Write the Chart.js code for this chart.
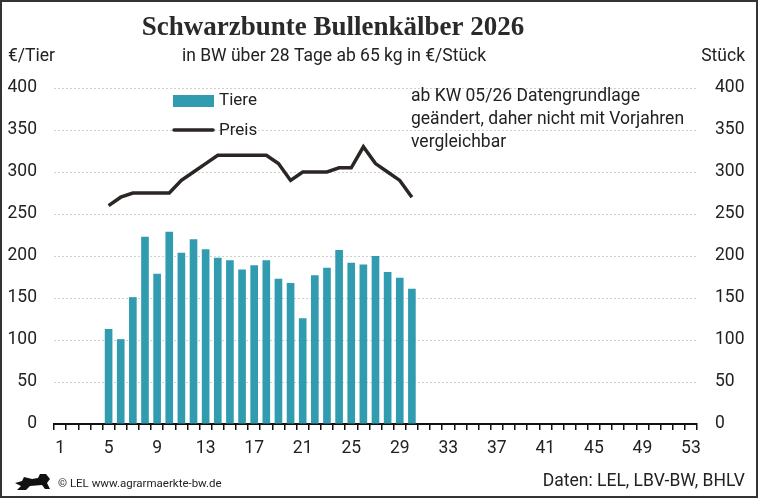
<!DOCTYPE html>
<html>
<head>
<meta charset="utf-8">
<script src="https://cdn.jsdelivr.net/npm/chart.js@4/dist/chart.umd.min.js"></script>
<style>
  html, body { margin: 0; padding: 0; background: #fff; }
  #wrap { width: 758px; height: 498px; }
</style>
</head>
<body>
<div id="wrap"><canvas id="c" width="758" height="498"></canvas></div>
<script>
// Kalenderwochen 1..53
const weeks = ['1','2','3','4','5','6','7','8','9','10','11','12','13','14','15','16','17','18','19','20',
  '21','22','23','24','25','26','27','28','29','30','31','32','33','34','35','36','37','38','39','40',
  '41','42','43','44','45','46','47','48','49','50','51','52','53'];

// Tiere (Stück), KW 5-30
const tiere = [null, null, null, null,
  113, 101, 151, 223, 179, 229, 204, 220, 208, 198, 195, 184, 189, 195, 173, 168,
  126, 177, 186, 207, 192, 190, 200, 181, 174, 161,
  null, null, null, null, null, null, null, null, null, null, null, null,
  null, null, null, null, null, null, null, null, null, null, null];

// Preis (€/Tier), KW 5-30
const preis = [null, null, null, null,
  260, 270, 275, 275, 275, 275, 290, 300, 310, 320, 320, 320, 320, 320, 310, 290,
  300, 300, 300, 305, 305, 330, 310, 300, 290, 270,
  null, null, null, null, null, null, null, null, null, null, null, null,
  null, null, null, null, null, null, null, null, null, null, null];

const yTicks = [0, 50, 100, 150, 200, 250, 300, 350, 400];

const BAR_COLOR = '#319bb0';
const LINE_COLOR = '#2b2624';
const TEXT = '#222';
const SANS = 'Roboto, "Noto Sans", sans-serif';
const FS = 17.5;

// texts, legend, frame drawn on top of the chart
const decor = {
  id: 'decor',
  afterDraw(chart) {
    const ctx = chart.ctx;
    ctx.save();

    // title
    ctx.fillStyle = '#2a2a2a';
    ctx.textAlign = 'center';
    ctx.textBaseline = 'middle';
    ctx.font = 'bold 27px "Liberation Serif", serif';
    ctx.fillText('Schwarzbunte Bullenkälber 2026', 333, 28);
    ctx.font = FS + 'px ' + SANS;
    ctx.fillStyle = TEXT;
    ctx.fillText('in BW über 28 Tage ab 65 kg in €/Stück', 334, 57);

    // axis titles
    ctx.textAlign = 'left';
    ctx.fillText('€/Tier', 8, 57);
    ctx.textAlign = 'right';
    ctx.fillText('Stück', 745, 57);

    // legend
    ctx.textAlign = 'left';
    ctx.fillStyle = BAR_COLOR;
    ctx.fillRect(173, 95, 41, 12);
    ctx.strokeStyle = LINE_COLOR;
    ctx.lineWidth = 3.5;
    ctx.lineCap = 'round';
    ctx.beginPath();
    ctx.moveTo(174, 130);
    ctx.lineTo(213, 130);
    ctx.stroke();
    ctx.fillStyle = TEXT;
    ctx.font = '17px ' + SANS;
    ctx.fillText(chart.data.datasets[1].label, 219, 101);
    ctx.fillText(chart.data.datasets[0].label, 219, 131);

    // note
    ctx.font = FS + 'px ' + SANS;
    ctx.fillText('ab KW 05/26 Datengrundlage', 411, 97);
    ctx.fillText('geändert, daher nicht mit Vorjahren', 411, 120);
    ctx.fillText('vergleichbar', 411, 143);

    // footer
    ctx.font = '11.5px ' + SANS;
    ctx.fillText('© LEL www.agrarmaerkte-bw.de', 58, 484);
    ctx.textAlign = 'right';
    ctx.font = FS + 'px ' + SANS;
    ctx.fillText('Daten: LEL, LBV-BW, BHLV', 745, 482);

    // small lion logo (rough)
    ctx.fillStyle = '#111';
    ctx.beginPath();
    ctx.moveTo(15, 483);
    ctx.lineTo(22, 481);
    ctx.lineTo(24, 477);
    ctx.lineTo(32, 479);
    ctx.lineTo(38, 478);
    ctx.lineTo(40, 474);
    ctx.lineTo(46, 474);
    ctx.lineTo(50, 479);
    ctx.lineTo(47, 483);
    ctx.lineTo(50, 489);
    ctx.lineTo(45, 489);
    ctx.lineTo(42, 485);
    ctx.lineTo(30, 486);
    ctx.lineTo(26, 490);
    ctx.lineTo(17, 490);
    ctx.lineTo(21, 486);
    ctx.closePath();
    ctx.fill();

    // frame
    ctx.strokeStyle = '#333';
    ctx.lineWidth = 2;
    ctx.strokeRect(1, 1, 756, 496);
    ctx.restore();
  }
};

new Chart(document.getElementById('c'), {
  data: {
    labels: weeks,
    datasets: [
      {
        type: 'line',
        label: 'Preis',
        data: preis,
        yAxisID: 'y',
        borderColor: LINE_COLOR,
        borderWidth: 3.5,
        pointRadius: 0,
        tension: 0,
        order: 0
      },
      {
        type: 'bar',
        label: 'Tiere',
        data: tiere,
        yAxisID: 'y1',
        backgroundColor: BAR_COLOR,
        barPercentage: 0.63,
        categoryPercentage: 1,
        order: 1
      }
    ]
  },
  options: {
    responsive: false,
    animation: false,
    layout: { padding: { top: 88, left: 0, right: 0, bottom: 0 } },
    plugins: {
      legend: { display: false },
      tooltip: { enabled: false },
      title: { display: false }
    },
    scales: {
      x: {
        offset: true,
        grid: {
          offset: true,
          drawOnChartArea: false,
          drawTicks: true,
          tickLength: 6,
          color: '#111',
          lineWidth: 1.5
        },
        border: { display: true, color: '#111', width: 2 },
        ticks: {
          autoSkip: false,
          maxRotation: 0,
          padding: 8,
          color: TEXT,
          font: { family: SANS, size: FS },
          callback: (v, i) => (i % 4 === 0 ? weeks[i] : '')
        },
        afterFit: s => { s.height = 74; }
      },
      y: {
        position: 'left',
        min: 0,
        max: 400,
        afterBuildTicks: s => { s.ticks = yTicks.map(v => ({ value: v })); },
        grid: { color: '#cfcfcf', lineWidth: 1, drawTicks: false },
        border: { display: false, dash: [2, 2] },
        ticks: { padding: 17, color: TEXT, font: { family: SANS, size: FS } },
        afterFit: s => { s.width = 54; }
      },
      y1: {
        position: 'right',
        min: 0,
        max: 400,
        afterBuildTicks: s => { s.ticks = yTicks.map(v => ({ value: v })); },
        grid: { drawOnChartArea: false, drawTicks: false },
        border: { display: false },
        ticks: { padding: 18, color: TEXT, font: { family: SANS, size: FS } },
        afterFit: s => { s.width = 61; }
      }
    }
  },
  plugins: [decor]
});
</script>
</body>
</html>
